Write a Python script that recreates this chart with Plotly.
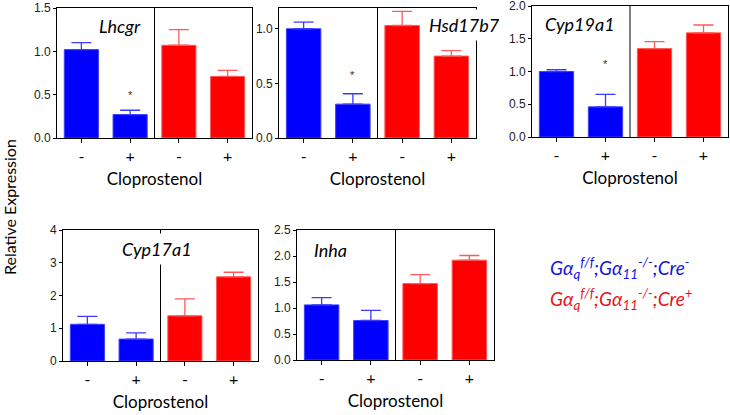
import plotly.graph_objects as go

W, H = 730, 415

genes = ["Lhcgr", "Hsd17b7", "Cyp19a1", "Cyp17a1", "Inha"]
tick_labels = ["-", "+", "-", "+"]
positions = [0, 1, 2, 3]

# mean values (Cre- -, Cre- +, Cre+ -, Cre+ +)
lhcgr_mean = [1.02, 0.27, 1.07, 0.71]
lhcgr_err = [0.08, 0.05, 0.18, 0.07]
hsd17b7_mean = [1.00, 0.31, 1.03, 0.75]
hsd17b7_err = [0.06, 0.095, 0.13, 0.05]
cyp19a1_mean = [1.00, 0.46, 1.35, 1.59]
cyp19a1_err = [0.03, 0.19, 0.105, 0.12]
cyp17a1_mean = [1.12, 0.67, 1.38, 2.57]
cyp17a1_err = [0.24, 0.19, 0.52, 0.14]
inha_mean = [1.06, 0.76, 1.47, 1.92]
inha_err = [0.14, 0.195, 0.17, 0.09]

means = [lhcgr_mean, hsd17b7_mean, cyp19a1_mean, cyp17a1_mean, inha_mean]
errs = [lhcgr_err, hsd17b7_err, cyp19a1_err, cyp17a1_err, inha_err]

y_ranges = [[0, 1.5], [0, 1.19], [0, 2.0], [0, 4.0], [0, 2.5]]
y_ticks = [[0, 0.5, 1.0, 1.5], [0, 0.5, 1.0], [0, 0.5, 1.0, 1.5, 2.0],
           [0, 1, 2, 3, 4], [0, 0.5, 1.0, 1.5, 2.0, 2.5]]
y_fmt = [".1f", ".1f", ".1f", "d", ".1f"]

# significance markers: (panel, x, y)
stars = [(0, 1, 0.50), (1, 1, 0.58), (2, 1, 1.12)]
# gene label positions in data coords, and whether it masks lines
label_pos = [(0.79, 1.29, False), (3.26, 1.035, True), (0.48, 1.725, False),
             (1.43, 3.42, True), (0.17, 2.115, False)]

# panel boxes in pixels: left, right, top, bottom
boxes = [(57, 252, 8, 138), (279, 476, 8, 138), (532, 728, 6, 137),
         (63, 258, 230, 361), (297, 494, 230, 360)]

BLUE = "#0000ff"
RED = "#ff0000"
SANS = "Lato, 'Open Sans', sans-serif"
NARROW = "'Liberation Sans Narrow', 'Liberation Sans', Arial, sans-serif"

fig = go.Figure()
layout = {}
annotations = []
shapes = []

for i in range(5):
    l, r, t, b = boxes[i]
    xa = "xaxis" if i == 0 else f"xaxis{i+1}"
    ya = "yaxis" if i == 0 else f"yaxis{i+1}"
    xr = "x" if i == 0 else f"x{i+1}"
    yr = "y" if i == 0 else f"y{i+1}"
    m, e = means[i], errs[i]
    fig.add_trace(go.Bar(
        x=positions[:2], y=m[:2], width=0.70, xaxis=xr, yaxis=yr,
        marker=dict(color=BLUE, line=dict(color="#4040ff", width=1)),
        error_y=dict(type="data", symmetric=False, array=e[:2], arrayminus=[0, 0],
                     color="#3b3bff", thickness=1.3, width=10),
        showlegend=False, hoverinfo="skip"))
    fig.add_trace(go.Bar(
        x=positions[2:], y=m[2:], width=0.70, xaxis=xr, yaxis=yr,
        marker=dict(color=RED, line=dict(color="#ff5a5a", width=1)),
        error_y=dict(type="data", symmetric=False, array=e[2:], arrayminus=[0, 0],
                     color="#ff5a5a", thickness=1.3, width=10),
        showlegend=False, hoverinfo="skip"))
    layout[xa] = dict(
        domain=[l / W, r / W], range=[-0.5, 3.5], anchor=yr, automargin=False,
        tickvals=positions, ticktext=tick_labels, ticks="outside", ticklen=4,
        tickcolor="black", showline=True, mirror=True, linecolor="black", linewidth=1,
        showgrid=False, zeroline=False, fixedrange=True,
        tickfont=dict(family=SANS, size=16, color="black"), ticklabelstandoff=0,
        title=dict(text="Cloprostenol", font=dict(family=SANS, size=17, color="black"),
                   standoff=8))
    layout[ya] = dict(
        domain=[1 - b / H, 1 - t / H], range=y_ranges[i], anchor=xr, automargin=False,
        tickvals=y_ticks[i], tickformat=y_fmt[i], ticks="outside", ticklen=3,
        tickcolor="black", showline=True, mirror=True, linecolor="black", linewidth=1,
        showgrid=False, zeroline=False, fixedrange=True, ticklabeloverflow="allow",
        tickfont=dict(family=NARROW, size=12, color="#222"), ticklabelstandoff=0)
    shapes.append(dict(type="line", xref=xr, yref=yr, x0=1.5, x1=1.5,
                       y0=0, y1=y_ranges[i][1], line=dict(color="black", width=1)))
    lx, ly, mask = label_pos[i]
    ann = dict(x=lx, y=ly, xref=xr, yref=yr, text=f"<i>{genes[i]}</i>",
               xanchor="center", yanchor="middle",
               showarrow=False, font=dict(family=SANS, size=18, color="black"))
    if mask:
        ann.update(bgcolor="white", height=30, borderpad=0)
    annotations.append(ann)

for (p, sx, sy) in stars:
    xr = "x" if p == 0 else f"x{p+1}"
    yr = "y" if p == 0 else f"y{p+1}"
    annotations.append(dict(x=sx, y=sy, xref=xr, yref=yr, text="*", showarrow=False,
                            xanchor="center", yanchor="middle",
                            font=dict(family=NARROW, size=11, color="#333")))

annotations.append(dict(x=9 / W, y=1 - 207 / H, xref="paper", yref="paper",
                        xanchor="center", yanchor="middle",
                        text="Relative Expression", textangle=-90, showarrow=False,
                        font=dict(family=SANS, size=16, color="black")))

legend_lines = [
    ("<i>Gα<sub>q</sub><sup>f/f</sup>;Gα<sub>11</sub><sup>-/-</sup>;Cre<sup>-</sup></i>", "#1414dc", 268),
    ("<i>Gα<sub>q</sub><sup>f/f</sup>;Gα<sub>11</sub><sup>-/-</sup>;Cre<sup>+</sup></i>", "#e5141b", 299),
]
for txt, col, py in legend_lines:
    annotations.append(dict(x=548 / W, y=1 - py / H, xref="paper", yref="paper",
                            xanchor="left", yanchor="middle", text=txt, showarrow=False,
                            font=dict(family=SANS, size=19, color=col)))

fig.update_layout(width=W, height=H,
                  margin=dict(l=0, r=0, t=0, b=0, pad=0, autoexpand=False),
                  paper_bgcolor="white", plot_bgcolor="white", hovermode=False,
                  annotations=annotations, shapes=shapes, bargap=0, **layout)
fig.write_html("out.html", config={"displayModeBar": False, "staticPlot": True},
               post_script="document.body.style.margin='0';document.body.style.overflow='hidden';")
